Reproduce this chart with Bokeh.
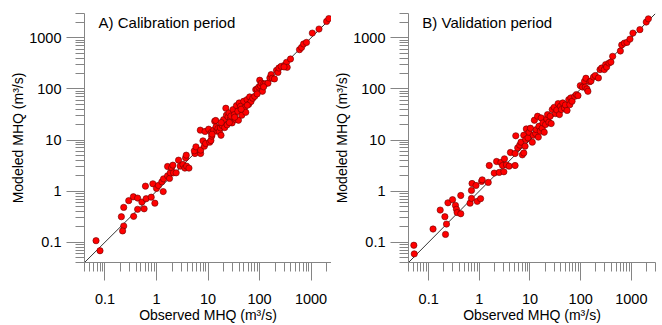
from bokeh.plotting import figure
from bokeh.layouts import row
from bokeh.models import FixedTicker, Label, Range1d
from bokeh.embed import file_html
from bokeh.resources import INLINE

# ---- data ----
cal_obs = [0.067, 0.080, 0.208, 0.231, 0.231, 0.22, 0.289, 0.356, 0.36, 0.43, 0.43, 0.52, 0.575, 0.61, 0.63,
           0.79, 0.85, 0.93, 1.0, 1.09, 1.27, 1.35, 1.37, 1.64, 1.64, 1.79, 1.85, 1.96, 2.08, 2.14, 2.41, 2.68,
           2.89, 3.26, 3.56, 3.67, 3.78, 3.84, 4.27, 5.58, 5.43, 5.83, 7.09, 7.19, 7.19, 7.98, 8.49, 8.76, 9.0,
           10.3, 10.8, 11.4, 11.8, 11.6, 12.9, 13.5, 14.1, 14.3, 14.9, 15.6, 16.6, 17.4, 17.9, 19.0, 20.1, 21.1,
           22.2, 22.8, 23.5, 24.5, 25.6, 27.2, 27.9, 29.3, 30.7, 32.5, 34.5, 35.7, 37.9, 39.0, 40.3, 42.8, 45.3,
           49.3, 50.9, 54.1, 57.4, 61.7, 64.5, 68.4, 74.0, 80.7, 84.5, 89.8, 96.8, 101, 104, 109, 114, 121, 130,
           146, 159, 168, 177, 195, 214, 228, 238, 263, 305, 335, 345, 400, 598, 656, 718, 817, 1060, 1430, 2010,
           2220, 26, 33, 44, 12, 18, 58, 120, 90, 300]
cal_mod = [0.107, 0.068, 0.315, 0.48, 0.207, 0.166, 0.65, 0.775, 0.32, 0.73, 0.44, 0.61, 0.45, 1.25, 0.71,
           0.76, 1.39, 0.58, 1.13, 1.29, 1.52, 0.98, 1.74, 1.99, 3.03, 1.77, 2.28, 2.86, 3.22, 2.28, 2.28, 4.03,
           3.08, 3.32, 2.82, 4.48, 5.05, 3.08, 2.82, 5.45, 6.14, 7.35, 15.6, 5.45, 6.33, 9.63, 7.57, 14.7, 8.55,
           16.3, 9.07, 9.78, 11.9, 14.0, 15.6, 23.3, 24.1, 18.1, 14.9, 16.8, 14.7, 17.3, 12.4, 19.2, 25.1, 17.5,
           41.9, 30.6, 19.8, 28.4, 34.0, 25.8, 29.5, 21.6, 39.5, 31.5, 25.1, 47.2, 36.6, 24.4, 53.2, 45.8, 30.6,
           57.4, 42.5, 34.9, 61.9, 50.1, 69.8, 56.6, 65.8, 71.6, 97.0, 99.9, 109, 148, 116, 130, 90, 126, 126,
           130, 164, 191, 162, 157, 232, 211, 257, 277, 290, 332, 265, 386, 587, 650, 759, 814, 1240, 1490, 2100,
           2390, 22, 28, 40, 13, 22, 48, 110, 80, 270]

val_obs = [0.051, 0.052, 0.122, 0.169, 0.209, 0.215, 0.225, 0.24, 0.296, 0.338, 0.354, 0.365, 0.43, 0.43,
           0.656, 0.70, 0.70, 0.718, 0.86, 0.91, 1.06, 1.11, 1.14, 1.50, 1.57, 1.97, 2.19, 2.47, 2.66, 2.87, 3.05,
           3.13, 3.43, 3.87, 4.11, 5.08, 5.08, 5.24, 5.72, 6.27, 6.65, 7.06, 7.54, 7.54, 7.99, 8.22, 8.47, 9.13,
           9.55, 10.2, 11.1, 11.6, 12.2, 12.9, 13.3, 14.1, 14.6, 15.0, 15.9, 16.6, 17.4, 18.0, 19.1, 20.3, 21.5,
           22.2, 23.5, 25.0, 26.2, 27.5, 30.0, 31.9, 33.8, 35.9, 38.1, 39.8, 41.7, 44.3, 47.7, 49.9, 53.9, 58.3,
           61.0, 63.8, 67.7, 76.3, 82.2, 88.6, 98.3, 109, 119, 123, 127, 133, 139, 152, 160, 179, 194, 224, 241,
           260, 293, 311, 325, 362, 396, 428, 608, 646, 728, 820, 940, 1075, 1475, 1970, 2170]
val_mod = [0.087, 0.059, 0.181, 0.425, 0.315, 0.142, 0.226, 0.59, 0.68, 0.525, 0.44, 0.38, 0.82, 0.36, 0.58,
           0.72, 1.03, 1.41, 1.29, 0.63, 0.71, 1.55, 1.66, 1.48, 3.17, 2.25, 3.80, 2.32, 3.63, 3.17, 2.39, 4.29,
           3.27, 3.08, 5.70, 3.17, 5.45, 12.1, 7.03, 7.93, 9.07, 5.12, 5.58, 12.4, 7.57, 10.2, 16.5, 11.0, 14.2,
           17.0, 9.07, 12.4, 24.4, 13.4, 16.0, 29.2, 11.4, 18.6, 14.9, 27.1, 17.0, 21.6, 14.2, 20.1, 25.8, 31.5,
           22.3, 29.2, 21.0, 39.5, 43.7, 33.0, 38.8, 51.7, 31.5, 45.8, 39.5, 53.3, 42.5, 48.6, 37.9, 61.9, 49.3,
           66.8, 57.4, 71.6, 77.6, 74.0, 116, 109, 141, 109, 162, 100, 90, 139, 143, 171, 183, 164, 239, 257, 239,
           300, 268, 321, 336, 435, 553, 725, 790, 815, 945, 1240, 1450, 2040, 2360]

major_ticks = [0.1, 1, 10, 100, 1000]
major_labels = ["0.1", "1", "10", "100", "1000"]
minor_steps = [2, 3, 4, 5, 6, 7, 8, 9]
decades = [0.01, 0.1, 1, 10, 100, 1000]

panel_titles = ["A) Calibration period", "B) Validation period"]
x_label = "Observed MHQ (m\u00b3/s)"
y_label = "Modeled MHQ (m\u00b3/s)"

x_ranges = [(0.04, 2500), (0.04, 3000)]
y_range_all = (0.04, 3000)

FONT = "Liberation Sans"
AXIS_GRAY = "#858585"

minor_ticks = [s * d for d in decades for s in minor_steps]


def make_panel(obs, mod, title, xr, border_left, border_right):
    p = figure(width=331, height=325, x_axis_type="log", y_axis_type="log",
               x_range=Range1d(*xr), y_range=Range1d(*y_range_all),
               output_backend="svg", toolbar_location=None,
               min_border_left=border_left, min_border_right=border_right,
               min_border_top=13, min_border_bottom=62)
    p.outline_line_color = None
    p.xgrid.visible = False
    p.ygrid.visible = False
    p.background_fill_color = "white"
    p.border_fill_color = "white"

    for ax in (p.xaxis[0], p.yaxis[0]):
        ax.ticker = FixedTicker(ticks=major_ticks, minor_ticks=minor_ticks)
        ax.major_label_overrides = {t: l for t, l in zip(major_ticks, major_labels)}
        ax.axis_line_color = AXIS_GRAY
        ax.major_tick_line_color = AXIS_GRAY
        ax.minor_tick_line_color = AXIS_GRAY
        ax.major_tick_in = 0
        ax.minor_tick_in = 0
        ax.major_tick_out = 18
        ax.minor_tick_out = 9
        ax.major_label_text_font = FONT
        ax.major_label_text_font_size = "14.5px"
        ax.major_label_text_color = "black"
        ax.axis_label_text_font = FONT
        ax.axis_label_text_font_size = "14px"
        ax.axis_label_text_font_style = "normal"
        ax.axis_label_text_color = "black"

    p.xaxis.axis_label = x_label
    p.yaxis.axis_label = y_label
    p.xaxis.major_label_standoff = 13
    p.xaxis.axis_label_standoff = 0
    p.yaxis.major_label_standoff = 5
    p.yaxis.axis_label_standoff = 0

    lo = max(xr[0], y_range_all[0])
    hi = min(xr[1], y_range_all[1])
    p.line([lo, hi], [lo, hi], line_color="black", line_width=0.8)

    p.scatter(obs, mod, size=6.3, fill_color="#ff0000", line_color="#6a0000",
              line_width=0.6)

    p.add_layout(Label(x=0.075, y=2000, text=title, text_font=FONT,
                       text_font_size="15px", text_baseline="middle",
                       text_align="left", text_color="black"))
    return p


pa = make_panel(cal_obs, cal_mod, panel_titles[0], x_ranges[0], 84, 0)
pb = make_panel(val_obs, val_mod, panel_titles[1], x_ranges[1], 75, 7)

layout = row(pa, pb, spacing=0)
open("out.html", "w").write(file_html(layout, INLINE))
